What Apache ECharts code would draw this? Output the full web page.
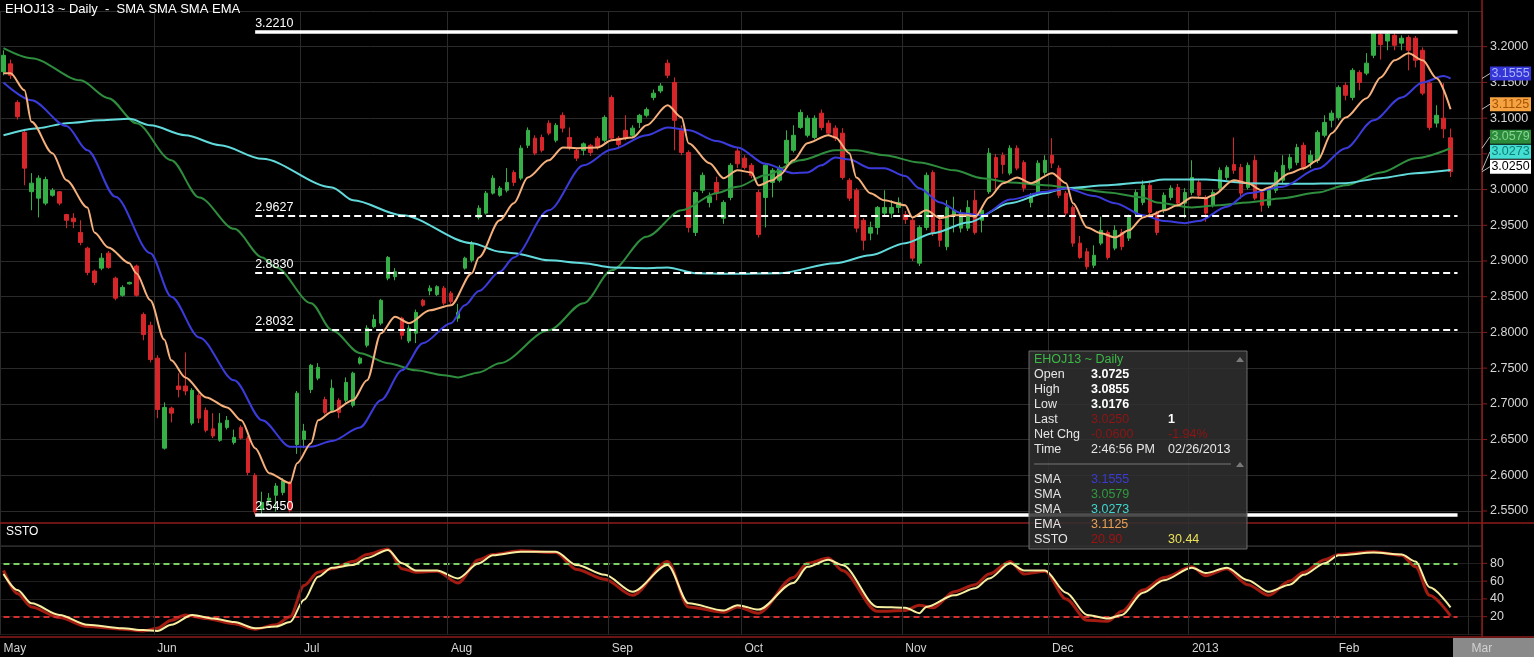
<!DOCTYPE html>
<html><head><meta charset="utf-8">
<script src="https://cdn.jsdelivr.net/npm/echarts@6/dist/echarts.min.js"></script>
<style>html,body{margin:0;padding:0;background:#000;overflow:hidden}#c{width:1534px;height:657px}</style>
</head><body><div id="c"></div>
<script>
// ---------- DATA ----------
const monthNames = ['May','Jun','Jul','Aug','Sep','Oct','Nov','Dec','2013','Feb','Mar'];
const monthDays  = [22,21,21,23,19,23,21,20,21,19,2];

const opens = [
3.165,3.176,3.122,3.080,2.997,2.988,2.981,2.992,2.997,2.965,
2.960,2.940,2.918,2.886,2.890,2.911,2.876,2.852,2.868,2.893,
2.825,2.810,2.764,2.638,2.694,2.725,2.725,2.673,2.712,2.691,
2.665,2.649,2.667,2.646,2.667,2.652,2.600,2.552,2.565,2.572,
2.576,2.590,2.643,2.650,2.720,2.736,2.706,2.691,2.705,2.705,
2.698,2.757,2.782,2.808,2.813,2.876,2.878,2.820,2.788,2.799,
2.845,2.858,2.853,2.862,2.855,2.820,2.890,2.901,2.961,2.967,
2.995,2.992,2.999,3.024,3.016,3.062,3.072,3.073,3.093,3.069,
3.104,3.073,3.055,3.055,3.062,3.072,3.069,3.129,3.072,3.083,
3.076,3.094,3.104,3.129,3.138,3.177,3.150,3.083,3.052,2.940,
2.999,2.982,3.010,2.960,2.989,3.054,3.044,3.034,2.996,2.989,
3.010,3.013,3.037,3.055,3.087,3.076,3.073,3.107,3.093,3.086,
3.079,3.013,2.999,2.957,2.939,2.947,2.967,2.967,2.975,2.965,
2.957,2.897,2.947,3.024,2.957,2.920,2.964,2.946,2.946,2.985,
2.957,2.997,3.045,3.048,3.023,3.058,3.038,2.982,2.996,3.024,
3.048,3.030,2.995,2.975,2.925,2.913,2.894,2.925,2.940,2.918,
2.940,2.932,2.967,2.982,3.006,2.967,2.971,2.989,3.003,2.981,
2.996,3.010,2.988,2.978,3.002,3.017,3.035,3.031,3.003,3.041,
2.996,2.978,2.999,3.013,3.030,3.038,3.062,3.038,3.041,3.076,
3.097,3.101,3.146,3.129,3.164,3.163,3.188,3.217,3.208,3.216,
3.205,3.213,3.212,3.195,3.149,3.093,3.100,3.0725];
const highs = [
3.195,3.182,3.125,3.085,3.023,3.020,3.018,3.002,2.998,2.966,
2.967,2.957,2.920,2.888,2.911,2.914,2.878,2.866,2.871,2.895,
2.828,2.815,2.768,2.702,2.696,2.743,2.772,2.722,2.715,2.695,
2.687,2.687,2.683,2.664,2.670,2.655,2.603,2.577,2.575,2.589,
2.596,2.592,2.718,2.672,2.756,2.757,2.710,2.734,2.708,2.737,
2.745,2.766,2.810,2.825,2.847,2.907,2.890,2.822,2.810,2.832,
2.847,2.866,2.866,2.865,2.858,2.840,2.906,2.928,2.978,2.998,
3.020,3.005,3.030,3.027,3.062,3.087,3.076,3.077,3.097,3.093,
3.108,3.087,3.058,3.066,3.064,3.075,3.104,3.132,3.075,3.104,
3.090,3.106,3.115,3.140,3.149,3.182,3.157,3.090,3.055,2.998,
3.024,2.996,3.018,2.985,3.037,3.058,3.048,3.037,3.000,3.037,
3.030,3.034,3.083,3.090,3.112,3.104,3.104,3.112,3.097,3.090,
3.086,3.016,3.002,2.960,2.955,2.977,2.999,2.985,2.989,2.970,
2.960,2.950,3.024,3.027,2.960,2.985,2.990,2.972,2.985,2.999,
2.975,3.058,3.050,3.052,3.062,3.062,3.041,2.995,3.041,3.048,
3.072,3.034,2.998,2.978,2.935,2.918,2.922,2.962,2.943,2.950,
2.945,2.965,3.000,3.013,3.010,2.970,2.996,3.006,3.008,3.002,
3.041,3.015,2.992,3.000,3.031,3.034,3.073,3.036,3.038,3.048,
3.000,3.003,3.027,3.048,3.050,3.064,3.066,3.055,3.083,3.104,
3.111,3.146,3.150,3.170,3.167,3.191,3.221,3.220,3.221,3.219,
3.216,3.216,3.215,3.199,3.153,3.118,3.149,3.0855];
const lows = [
3.160,3.155,3.098,3.006,2.971,2.961,2.978,2.990,2.978,2.946,
2.946,2.922,2.880,2.866,2.887,2.889,2.845,2.850,2.867,2.850,
2.789,2.758,2.680,2.636,2.674,2.709,2.712,2.670,2.673,2.660,
2.652,2.647,2.664,2.643,2.650,2.600,2.545,2.545,2.558,2.549,
2.572,2.548,2.630,2.638,2.715,2.733,2.685,2.689,2.680,2.702,
2.695,2.755,2.779,2.806,2.810,2.873,2.873,2.790,2.785,2.785,
2.836,2.852,2.851,2.838,2.840,2.815,2.888,2.898,2.958,2.965,
2.993,2.990,2.996,3.005,3.013,3.058,3.048,3.052,3.076,3.066,
3.080,3.055,3.040,3.048,3.047,3.056,3.066,3.068,3.058,3.069,
3.073,3.086,3.101,3.125,3.135,3.156,3.055,3.048,2.940,2.935,
2.995,2.975,2.985,2.952,2.985,3.030,3.028,3.016,2.933,2.947,
2.989,3.010,3.034,3.052,3.085,3.073,3.070,3.083,3.075,3.068,
3.014,2.984,2.940,2.915,2.929,2.937,2.964,2.960,2.967,2.952,
2.900,2.893,2.943,2.935,2.920,2.915,2.940,2.940,2.942,2.937,
2.940,2.994,2.997,3.022,3.020,3.027,2.997,2.975,2.992,3.020,
3.030,2.988,2.963,2.920,2.903,2.888,2.890,2.922,2.902,2.915,
2.915,2.928,2.963,2.978,2.964,2.936,2.967,2.985,2.976,2.960,
2.992,2.988,2.955,2.975,2.998,3.013,3.022,2.987,3.000,2.985,
2.969,2.974,2.995,3.009,3.027,3.034,3.027,3.030,3.037,3.073,
3.087,3.097,3.125,3.125,3.139,3.160,3.184,3.182,3.195,3.195,
3.195,3.167,3.171,3.132,3.083,3.087,3.072,3.0176];
const closes = [
3.188,3.160,3.102,3.030,3.009,3.016,3.014,2.999,2.981,2.957,
2.955,2.926,2.884,2.870,2.904,2.891,2.848,2.863,2.870,2.852,
2.797,2.762,2.692,2.695,2.687,2.720,2.718,2.719,2.680,2.663,
2.655,2.673,2.677,2.653,2.652,2.604,2.549,2.562,2.568,2.585,
2.592,2.551,2.715,2.662,2.754,2.751,2.688,2.722,2.688,2.730,
2.743,2.764,2.806,2.818,2.845,2.905,2.885,2.796,2.806,2.828,
2.838,2.862,2.864,2.841,2.843,2.828,2.904,2.925,2.974,2.995,
3.016,3.002,3.010,3.010,3.058,3.083,3.051,3.055,3.079,3.090,
3.086,3.059,3.044,3.064,3.052,3.060,3.101,3.072,3.063,3.072,
3.086,3.104,3.112,3.135,3.145,3.160,3.097,3.052,2.947,2.996,
3.020,2.990,2.995,2.982,3.034,3.036,3.031,3.020,2.937,3.034,
3.027,3.031,3.069,3.076,3.108,3.100,3.100,3.087,3.079,3.072,
3.017,2.988,2.946,2.929,2.947,2.975,2.975,2.975,2.982,2.958,
2.904,2.947,3.020,2.939,2.929,2.975,2.971,2.967,2.975,2.940,
2.971,3.051,3.017,3.035,3.058,3.030,3.002,2.990,3.037,3.041,
3.037,2.992,2.967,2.925,2.905,2.892,2.908,2.943,2.905,2.943,
2.920,2.961,2.996,3.006,2.968,2.940,2.992,3.002,2.981,2.996,
3.017,2.992,2.967,2.996,3.027,3.031,3.027,2.995,3.034,2.988,
2.978,2.999,3.024,3.034,3.045,3.059,3.031,3.048,3.080,3.094,
3.107,3.143,3.132,3.167,3.150,3.177,3.219,3.203,3.218,3.202,
3.212,3.195,3.181,3.135,3.087,3.104,3.085,3.025];

// moving averages: [day index, value]
const smaBlue = [[0,3.150],[4,3.125],[9,3.089],[12,3.055],[16,2.990],[21,2.911],[24,2.850],[28,2.793],[33,2.733],[37,2.677],[41,2.640],[44,2.640],[47,2.648],[51,2.667],[54,2.705],[57,2.747],[60,2.785],[64,2.813],[66,2.838],[68,2.858],[71,2.885],[73,2.905],[78,2.971],[83,3.034],[87,3.056],[92,3.076],[95,3.087],[98,3.083],[102,3.068],[105,3.059],[109,3.036],[113,3.023],[115,3.024],[117,3.034],[119,3.045],[121,3.042],[124,3.030],[126,3.030],[129,3.019],[131,3.002],[134,2.982],[137,2.967],[140,2.964],[144,2.986],[149,2.997],[152,3.002],[156,2.991],[159,2.981],[163,2.964],[166,2.956],[169,2.953],[171,2.956],[175,2.976],[178,2.995],[183,3.004],[188,3.029],[192,3.058],[196,3.097],[200,3.129],[203,3.150],[206,3.159],[207,3.1555]];
const smaGreen = [[0,3.198],[4,3.184],[11,3.153],[15,3.128],[19,3.093],[24,3.041],[28,2.989],[33,2.945],[37,2.905],[39,2.891],[44,2.841],[47,2.803],[51,2.771],[55,2.757],[59,2.747],[63,2.740],[65,2.737],[68,2.744],[71,2.757],[78,2.803],[83,2.841],[87,2.887],[92,2.934],[97,2.971],[102,2.995],[105,3.004],[109,3.020],[114,3.041],[119,3.055],[122,3.055],[126,3.048],[131,3.038],[136,3.027],[140,3.016],[144,3.010],[149,3.006],[153,3.002],[158,2.996],[163,2.989],[165,2.982],[170,2.975],[174,2.978],[178,2.982],[183,2.988],[188,2.996],[192,3.006],[197,3.024],[202,3.044],[207,3.0579]];
const smaCyan = [[0,3.076],[5,3.086],[9,3.093],[14,3.097],[18,3.099],[21,3.090],[26,3.076],[31,3.062],[37,3.043],[47,3.003],[50,2.985],[57,2.964],[67,2.925],[71,2.913],[73,2.911],[78,2.901],[83,2.897],[87,2.891],[92,2.890],[95,2.891],[99,2.883],[104,2.882],[111,2.883],[119,2.897],[124,2.908],[129,2.925],[133,2.939],[138,2.954],[144,2.981],[149,2.995],[152,3.002],[158,3.006],[163,3.010],[166,3.014],[172,3.014],[178,3.009],[185,3.008],[192,3.009],[197,3.016],[202,3.023],[207,3.0273]];
const emaOrange = [[0,3.163],[1,3.163],[3,3.139],[4,3.095],[7,3.051],[9,3.013],[12,2.975],[13,2.940],[15,2.919],[18,2.897],[19,2.883],[21,2.845],[23,2.790],[24,2.761],[26,2.737],[29,2.709],[32,2.695],[34,2.677],[36,2.638],[38,2.603],[41,2.589],[42,2.617],[44,2.645],[45,2.677],[47,2.689],[50,2.705],[52,2.733],[54,2.799],[56,2.822],[58,2.813],[61,2.831],[64,2.838],[67,2.883],[68,2.905],[71,2.957],[73,2.981],[75,3.017],[78,3.041],[80,3.059],[82,3.058],[85,3.059],[87,3.069],[90,3.073],[92,3.090],[95,3.118],[97,3.101],[98,3.065],[101,3.037],[103,3.016],[105,3.027],[107,3.024],[108,3.006],[110,3.013],[111,3.020],[113,3.041],[115,3.065],[118,3.076],[119,3.073],[121,3.051],[122,3.017],[124,2.995],[126,2.985],[129,2.978],[130,2.961],[132,2.971],[134,2.960],[136,2.964],[138,2.964],[139,2.962],[141,2.989],[143,3.009],[145,3.017],[147,3.009],[150,3.023],[152,3.009],[153,2.981],[155,2.947],[157,2.939],[159,2.933],[161,2.943],[163,2.961],[164,2.964],[166,2.971],[168,2.978],[170,2.989],[172,2.988],[173,2.992],[176,3.013],[178,3.009],[180,2.999],[181,3.003],[184,3.023],[186,3.030],[188,3.041],[190,3.079],[192,3.101],[195,3.128],[197,3.157],[199,3.181],[201,3.191],[203,3.181],[205,3.156],[207,3.1125]];

// slow stochastic: [day index, value]
const sstoK = [[0,72],[2,46],[4,31],[8,19],[12,9],[17,6],[20,4],[22,7],[24,16],[26,22],[29,18],[33,12],[36,6],[39,11],[41,20],[43,55],[45,70],[47,74],[50,82],[52,90],[55,96],[57,74],[59,70],[62,71],[65,58],[68,84],[70,90],[74,94],[79,92],[82,73],[86,62],[90,44],[95,82],[98,31],[103,25],[105,31],[108,24],[113,64],[115,80],[118,86],[120,72],[125,26],[129,27],[131,33],[133,30],[136,48],[139,56],[141,68],[144,82],[146,68],[149,71],[152,40],[155,16],[158,15],[160,26],[163,50],[166,64],[170,76],[172,66],[175,74],[178,56],[181,44],[184,60],[186,70],[189,84],[191,90],[196,93],[200,89],[202,76],[204,44],[207,20.90]];
const sstoD = [[0,68],[2,50],[4,35],[8,22],[12,11],[17,7],[20,5],[22,4],[24,11],[27,22],[30,18],[33,14],[36,7],[39,9],[41,14],[43,39],[45,65],[47,75],[50,78],[52,86],[55,95],[57,80],[59,72],[62,72],[65,63],[68,80],[70,89],[74,93],[79,93],[82,78],[86,67],[90,48],[95,78],[98,35],[103,27],[105,33],[108,28],[113,58],[115,76],[118,84],[120,78],[125,31],[129,30],[131,24],[132,31],[136,44],[139,52],[141,63],[144,80],[146,72],[149,72],[152,47],[155,22],[158,18],[160,22],[163,47],[166,61],[170,75],[172,69],[175,75],[178,61],[181,48],[184,56],[186,67],[189,80],[191,89],[196,92],[200,90],[202,82],[204,53],[207,30.44]];

const fibLevels = [3.2210, 2.9627, 2.8830, 2.8032, 2.5450];
const fibStart = 36, fibEnd = 208;
const sstoLevels = [80, 20];

// ---------- CHART ----------
const FONT = 'Liberation Sans';
const RED_LINE = '#8e1b1b';
const GRID_LINE = '#2a2a2a';
const chart = echarts.init(document.getElementById('c'));

const cats = [];
monthNames.forEach((m, k) => { for (let d = 0; d < monthDays[k]; d++) cats.push(m + '#' + d); });
const isMonthStart = (idx, val) => String(val).endsWith('#0');
const candleData = opens.map((o, i) => [o, closes[i], lows[i], highs[i]]);

function maLine(data, color, z) {
  return { type: 'line', xAxisIndex: 0, yAxisIndex: 0, data, showSymbol: false, symbol: 'none',
    smooth: 0.3, smoothMonotone: 'x', lineStyle: { color, width: 2 }, z, silent: true, clip: false };
}

const blueSeries = maLine(smaBlue, '#3b3bdc', 4);
blueSeries.markLine = {
  silent: true, symbol: ['none', 'none'], animation: false,
  data: fibLevels.map((v, k) => {
    const solid = (k === 0 || k === fibLevels.length - 1);
    return [{ coord: [cats[fibStart], v],
              lineStyle: { color: '#ffffff', width: solid ? 3.5 : 2, type: solid ? 'solid' : [7, 4] },
              label: { show: true, position: 'insideStartTop', formatter: v.toFixed(4), color: '#ffffff',
                       fontSize: 12.5, fontFamily: FONT, distance: [0, 2] } },
            { coord: [cats[fibEnd], v] }];
  })
};

const dSeries = { type: 'line', xAxisIndex: 1, yAxisIndex: 1, data: sstoD, showSymbol: false, symbol: 'none',
  smooth: 0.3, smoothMonotone: 'x', lineStyle: { color: '#f6efa2', width: 2 }, z: 5, silent: true,
  markLine: { silent: true, symbol: ['none', 'none'], animation: false, label: { show: false },
    data: sstoLevels.map((v, k) => [{ coord: [cats[0], v],
      lineStyle: { color: k === 0 ? '#7ccf63' : '#d23030', width: 2, type: [6, 4] } }, { coord: [cats[fibEnd], v] }]) } };

const option = {
  backgroundColor: '#000',
  animation: false,
  textStyle: { fontFamily: FONT },
  title: { text: 'EHOJ13 ~ Daily  -  SMA SMA SMA EMA', left: 5, top: 3, padding: 0,
           textStyle: { color: '#ffffff', fontSize: 13, fontWeight: 'normal', fontFamily: FONT } },
  grid: [
    { left: 0, right: 52, top: 11, height: 535.7, outerBoundsMode: 'none', containLabel: false },
    { left: 0, right: 52, top: 545.5, height: 89, outerBoundsMode: 'none', containLabel: false }
  ],
  xAxis: [
    { type: 'category', gridIndex: 0, data: cats, boundaryGap: true,
      axisLine: { show: false }, axisTick: { show: false }, axisLabel: { show: false },
      splitLine: { show: true, interval: isMonthStart, lineStyle: { color: GRID_LINE, width: 1 } } },
    { type: 'category', gridIndex: 1, data: cats, boundaryGap: true, z: 20,
      axisLine: { show: false }, axisTick: { show: false },
      axisLabel: { show: true, interval: isMonthStart, formatter: v => v.split('#')[0], align: 'left',
                   color: '#d2d2d2', fontSize: 12, fontFamily: FONT, margin: 8 },
      splitLine: { show: true, interval: isMonthStart, lineStyle: { color: GRID_LINE, width: 1 } } }
  ],
  yAxis: [
    { type: 'value', gridIndex: 0, position: 'right', min: 2.5, max: 3.25, interval: 0.05,
      axisLine: { show: false }, axisTick: { show: false },
      axisLabel: { color: '#d6d6d6', fontSize: 12.5, fontFamily: FONT, margin: 8, showMaxLabel: false, showMinLabel: false,
                   formatter: v => v.toFixed(4) },
      splitLine: { show: true, lineStyle: { color: GRID_LINE, width: 1 } } },
    { type: 'value', gridIndex: 1, position: 'right', min: 0, max: 100, interval: 20,
      axisLine: { show: false }, axisTick: { show: false },
      axisLabel: { color: '#d6d6d6', fontSize: 12.5, fontFamily: FONT, margin: 8,
                   formatter: v => (v > 0 && v < 100) ? String(v) : '' },
      splitLine: { show: true, lineStyle: { color: '#1e1e1e', width: 1 } } }
  ],
  series: [
    { type: 'candlestick', xAxisIndex: 0, yAxisIndex: 0, data: candleData, barWidth: 4, clip: false, z: 2, silent: true,
      itemStyle: { color: '#34b046', color0: '#d6262a', borderColor: '#34b046', borderColor0: '#d6262a', borderWidth: 1 } },
    maLine(smaGreen, '#2f8d3e', 3),
    maLine(smaCyan, '#62dadb', 3),
    blueSeries,
    maLine(emaOrange, '#f6b07c', 5),
    { type: 'line', xAxisIndex: 1, yAxisIndex: 1, data: sstoK, showSymbol: false, symbol: 'none',
      smooth: 0.3, smoothMonotone: 'x', lineStyle: { color: '#a31c12', width: 3 }, z: 4, silent: true },
    dSeries
  ]
};
chart.setOption(option);

// ---------- overlays ----------
const lastClose = closes[closes.length - 1];
const tags = [
  { v: smaBlue[smaBlue.length - 1][1], fill: '#3636d6', text: '#a9b4ff' },
  { v: emaOrange[emaOrange.length - 1][1], fill: '#f4a242', text: '#a55200' },
  { v: smaGreen[smaGreen.length - 1][1], fill: '#2c8a3b', text: '#86d690' },
  { v: smaCyan[smaCyan.length - 1][1], fill: '#44dfd2', text: '#0f7d74' },
  { v: lastClose, fill: '#ffffff', text: '#000000' }
];
tags.forEach(t => { t.p = chart.convertToPixel({ yAxisIndex: 0 }, t.v); t.y = t.p - 5; });
tags.sort((a, b) => a.p - b.p);
for (let k = tags.length - 2; k >= 0; k--) tags[k].y = Math.min(tags[k].y, tags[k + 1].y - 15);

const AXIS_X = 1482;
const els = [];
// panel separators / axis line
els.push({ type: 'rect', shape: { x: 0, y: 523.5, width: 1534, height: 22 }, style: { fill: 'rgba(0,0,0,0)' }, z: 0, silent: true });
els.push({ type: 'line', shape: { x1: 0, y1: 523, x2: 1534, y2: 523 }, style: { stroke: RED_LINE, lineWidth: 1.5 }, z: 50, silent: true });
els.push({ type: 'line', shape: { x1: 0, y1: 637, x2: 1534, y2: 637 }, style: { stroke: RED_LINE, lineWidth: 1.5 }, z: 50, silent: true });
els.push({ type: 'line', shape: { x1: AXIS_X, y1: 0, x2: AXIS_X, y2: 637 }, style: { stroke: RED_LINE, lineWidth: 1.5 }, z: 50, silent: true });
els.push({ type: 'rect', shape: { x: 1453, y: 638, width: 81, height: 19 }, style: { fill: '#8a8a8a' }, z: 1, silent: true });
els.push({ type: 'text', x: 6, y: 532, style: { text: 'SSTO', fill: '#ffffff', font: '12px ' + FONT, verticalAlign: 'middle' }, z: 50, silent: true });

// small red axis ticks at each price / oscillator label
[[0, [2.55, 2.6, 2.65, 2.7, 2.75, 2.8, 2.85, 2.9, 2.95, 3.0, 3.05, 3.1, 3.15, 3.2]], [1, [20, 40, 60, 80]]].forEach(([ai, vals]) => {
  vals.forEach(v => {
    const py = chart.convertToPixel({ yAxisIndex: ai }, v);
    els.push({ type: 'line', shape: { x1: AXIS_X, y1: py, x2: AXIS_X + 5, y2: py }, style: { stroke: RED_LINE, lineWidth: 1 }, z: 50, silent: true });
  });
});

tags.forEach(t => {
  els.push({ type: 'line', shape: { x1: AXIS_X, y1: t.p, x2: 1490, y2: t.y }, style: { stroke: '#bbbbbb', lineWidth: 1 }, z: 60, silent: true });
  els.push({ type: 'rect', shape: { x: 1490, y: t.y - 7, width: 41, height: 14 }, style: { fill: t.fill }, z: 61, silent: true });
  els.push({ type: 'text', x: 1510.5, y: t.y, style: { text: t.v.toFixed(4), fill: t.text, font: '12.5px ' + FONT, align: 'center', verticalAlign: 'middle' }, z: 62, silent: true });
});

// info panel
const BX = 1029, BY = 351;
const dark = '#8f1414';
const infoRows = [
  ['Open', '3.0725', '#ffffff', true, '', ''],
  ['High', '3.0855', '#ffffff', true, '', ''],
  ['Low', '3.0176', '#ffffff', true, '', ''],
  ['Last', '3.0250', dark, false, '1', '#ffffff'],
  ['Net Chg', '-0.0600', dark, false, '-1.94%', dark],
  ['Time', '2:46:56 PM', '#e6e6e6', false, '02/26/2013', '#e6e6e6'],
  null,
  ['SMA', '3.1555', '#3a3ad2', false, '', ''],
  ['SMA', '3.0579', '#2f9a3f', false, '', ''],
  ['SMA', '3.0273', '#3fd6cc', false, '', ''],
  ['EMA', '3.1125', '#e7a054', false, '', ''],
  ['SSTO', '20.90', '#a01212', false, '30.44', '#e9e05a']
];
els.push({ type: 'rect', shape: { x: BX, y: BY, width: 218, height: 198 }, style: { fill: 'rgba(48,48,48,0.86)', stroke: '#6c6c6c', lineWidth: 1 }, z: 70, silent: true });
els.push({ type: 'text', x: BX + 5, y: BY + 9, style: { text: 'EHOJ13 ~ Daily', fill: '#3cb846', font: '12.5px ' + FONT, verticalAlign: 'middle' }, z: 71, silent: true });
els.push({ type: 'polygon', shape: { points: [[BX + 207, BY + 11], [BX + 215, BY + 11], [BX + 211, BY + 6]] }, style: { fill: '#7a7a7a' }, z: 71, silent: true });
infoRows.forEach((r, k) => {
  const y = BY + 24 + k * 15;
  if (!r) {
    els.push({ type: 'line', shape: { x1: BX + 5, y1: y - 1, x2: BX + 202, y2: y - 1 }, style: { stroke: '#777', lineWidth: 1 }, z: 71, silent: true });
    els.push({ type: 'polygon', shape: { points: [[BX + 207, y + 2], [BX + 215, y + 2], [BX + 211, y - 3]] }, style: { fill: '#7a7a7a' }, z: 71, silent: true });
    return;
  }
  els.push({ type: 'text', x: BX + 5, y, style: { text: r[0], fill: '#e6e6e6', font: '12.5px ' + FONT, verticalAlign: 'middle' }, z: 71, silent: true });
  els.push({ type: 'text', x: BX + 62, y, style: { text: r[1], fill: r[2], font: (r[3] ? 'bold ' : '') + '12.5px ' + FONT, verticalAlign: 'middle' }, z: 71, silent: true });
  if (r[4]) els.push({ type: 'text', x: BX + 139, y, style: { text: r[4], fill: r[5], font: (r[4] === '1' ? 'bold ' : '') + '12.5px ' + FONT, verticalAlign: 'middle' }, z: 71, silent: true });
});

chart.setOption({ graphic: { elements: els } });
</script>
</body></html>
